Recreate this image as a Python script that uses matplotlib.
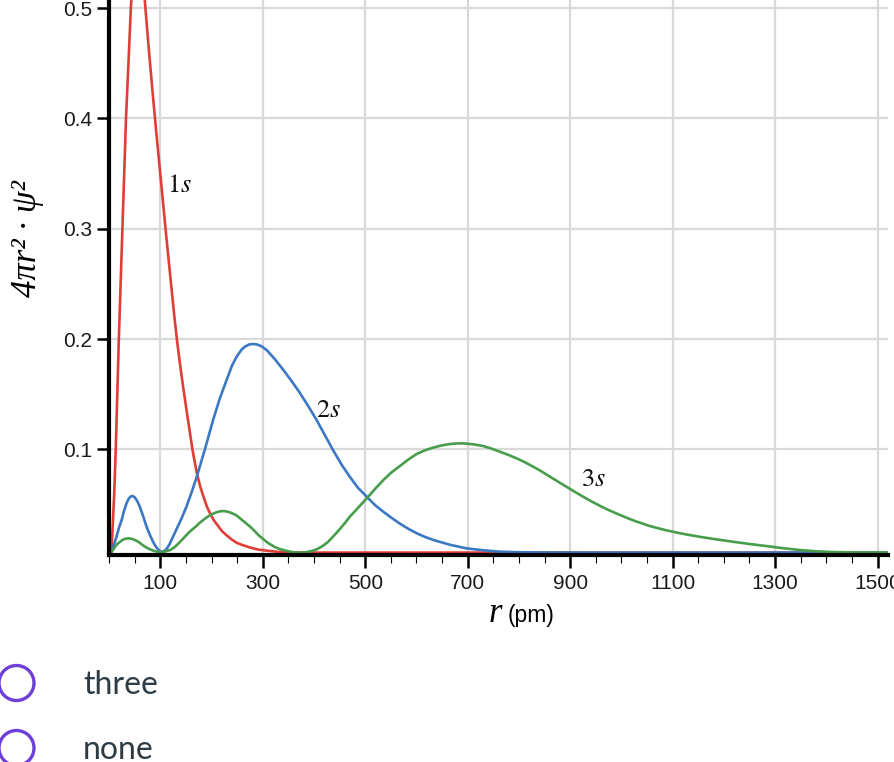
import matplotlib
matplotlib.use("Agg")
import matplotlib.pyplot as plt
from matplotlib.patches import Circle
from matplotlib.ticker import FixedLocator, MultipleLocator

# values: r in pm, 4*pi*r^2*psi^2
r_1s = [3, 5, 7, 10, 13, 19, 26, 33, 42.5, 45, 48, 51, 54, 57, 60, 63, 66, 68, 70, 78, 85,
        92, 99, 105, 111, 117, 122, 127, 133, 139, 145, 151, 156.5, 163, 171, 178, 185, 191,
        197, 204, 212, 220, 229.5, 240, 250, 262, 275, 292, 310, 325, 340, 370, 400, 700,
        1000, 1521]
p_1s = [0.006, 0.012, 0.03, 0.06, 0.1, 0.2, 0.3, 0.4, 0.5, 0.52, 0.54, 0.552, 0.558, 0.56,
        0.556, 0.546, 0.53, 0.518, 0.505, 0.46, 0.423, 0.388, 0.354, 0.325, 0.296, 0.268,
        0.245, 0.222, 0.197, 0.175, 0.155, 0.136, 0.119, 0.099, 0.079, 0.066, 0.056, 0.048,
        0.042, 0.036, 0.031, 0.026, 0.022, 0.018, 0.015, 0.013, 0.011, 0.009, 0.008, 0.0073,
        0.0068, 0.0065, 0.0064, 0.0064, 0.0064, 0.0064]

r_2s = [3, 5, 9, 14, 20, 24.6, 29, 34, 38, 42, 46, 50, 55, 60, 66, 73, 80, 86, 91, 96, 100,
        103, 107, 112, 118, 125, 133, 142, 151, 161, 171, 187, 203, 216, 229.5, 240, 249, 258,
        265, 273, 281, 289, 297, 307.6, 323, 340, 356, 372.6, 389, 405, 421, 437.5, 454, 470,
        486, 503, 519, 535, 551, 568, 584, 600, 616, 633, 665, 698, 730, 763, 800, 850, 1000,
        1521]
p_2s = [0.006, 0.007, 0.013, 0.02, 0.03, 0.036, 0.044, 0.051, 0.055, 0.0572, 0.0577, 0.0565,
        0.053, 0.048, 0.040, 0.030, 0.022, 0.016, 0.012, 0.009, 0.0075, 0.007, 0.0078, 0.0095,
        0.014, 0.021, 0.029, 0.038, 0.048, 0.061, 0.075, 0.10, 0.1266, 0.146, 0.163, 0.176,
        0.184, 0.190, 0.193, 0.195, 0.1955, 0.195, 0.1935, 0.190, 0.182, 0.172, 0.162, 0.151,
        0.139, 0.1266, 0.113, 0.099, 0.086, 0.075, 0.065, 0.057, 0.0495, 0.0435, 0.038,
        0.0325, 0.028, 0.024, 0.0207, 0.0178, 0.0135, 0.0102, 0.0085, 0.0072, 0.0067, 0.0065,
        0.0064, 0.0064]

r_3s = [3, 8, 12, 16, 21, 25, 29, 33, 37.5, 42, 48, 54, 60, 66, 73, 80, 88, 96, 103, 110, 119,
        127, 135, 143, 151, 159, 168, 176, 184, 192, 200, 207, 213, 218, 223, 229, 236, 243,
        249, 258, 266, 275, 284, 292, 300, 307.6, 316, 324, 332, 340, 350, 360, 372.6, 385,
        395, 405, 415, 426, 437.5, 450, 460, 470, 486, 503, 519, 535, 551, 568, 584, 600, 616,
        633, 649, 665, 678, 691, 710, 730, 746, 763, 779, 795.5, 812, 828, 844, 860.5, 877,
        893, 909, 925.5, 942, 958, 974, 990.6, 1007, 1023, 1055, 1088, 1120, 1153, 1185, 1218,
        1250, 1283, 1315, 1348, 1380, 1413, 1450, 1521]
p_3s = [0.006, 0.009, 0.012, 0.0142, 0.016, 0.0175, 0.0185, 0.019, 0.0193, 0.0191, 0.0183,
        0.017, 0.0152, 0.013, 0.011, 0.0093, 0.0078, 0.007, 0.0069, 0.0074, 0.0087, 0.011,
        0.0145, 0.0183, 0.0223, 0.026, 0.0295, 0.033, 0.036, 0.0388, 0.041, 0.0425, 0.0434,
        0.0439, 0.044, 0.0437, 0.0428, 0.0414, 0.040, 0.0365, 0.0335, 0.030, 0.026, 0.022,
        0.019, 0.016, 0.0135, 0.0113, 0.0098, 0.0087, 0.0075, 0.0067, 0.0063, 0.0068, 0.0078,
        0.0093, 0.0118, 0.0155, 0.021, 0.0275, 0.033, 0.039, 0.047, 0.0556, 0.064, 0.072,
        0.079, 0.085, 0.0907, 0.0957, 0.099, 0.1016, 0.1035, 0.1048, 0.1053, 0.1054, 0.1046,
        0.103, 0.1007, 0.0978, 0.095, 0.0918, 0.0882, 0.0842, 0.080, 0.0752, 0.0705, 0.066,
        0.0615, 0.057, 0.0527, 0.0488, 0.0452, 0.0418, 0.0386, 0.0356, 0.0305, 0.0265,
        0.0234, 0.0207, 0.0184, 0.0162, 0.0142, 0.0123, 0.0104, 0.0087, 0.0076, 0.0069,
        0.0066, 0.0064]

x_major = [100, 300, 500, 700, 900, 1100, 1300, 1500]
y_major = [0.1, 0.2, 0.3, 0.4, 0.5]
y_labels = ["0.1", "0.2", "0.3", "0.4", "0.5"]

curve_names = ["$1s$", "$2s$", "$3s$"]
name_r = [137, 429, 946]
name_p = [0.340, 0.1356, 0.073]

options = ["three", "none"]

RED = "#df3e36"
BLUE = "#3b78c3"
GREEN = "#489d4c"


def main():
    plt.rcParams["mathtext.fontset"] = "stix"
    plt.rcParams["font.family"] = ["Liberation Sans", "DejaVu Sans"]

    fig = plt.figure(figsize=(8.94, 7.62), dpi=100)
    ax = fig.add_axes([109.1 / 894, 1 - 555 / 762, (888.3 - 109.1) / 894, 555 / 762])

    ax.plot(r_1s, p_1s, color=RED, lw=1.9, zorder=3)
    ax.plot(r_2s, p_2s, color=BLUE, lw=1.9, zorder=4)
    ax.plot(r_3s, p_3s, color=GREEN, lw=1.9, zorder=5)

    for name, r, p in zip(curve_names, name_r, name_p):
        ax.text(r, p, name, ha="center", va="center", fontsize=19, color="#111111")

    ax.set_xlim(0, 1521)
    ax.set_ylim(0.0042, 0.5073)

    ax.xaxis.set_major_locator(FixedLocator(x_major))
    ax.xaxis.set_minor_locator(MultipleLocator(50))
    ax.set_yticks(y_major)
    ax.set_yticklabels(y_labels)

    ax.grid(True, which="major", color="#d9d9d9", lw=1.6)
    ax.set_axisbelow(True)

    for side in ["top", "right"]:
        ax.spines[side].set_visible(False)
    for side in ["left", "bottom"]:
        ax.spines[side].set_linewidth(3)
        ax.spines[side].set_zorder(6)

    ax.tick_params(axis="x", which="major", length=9.5, width=1.8, pad=4.5, labelsize=15,
                   labelcolor="#1a1a1a")
    ax.tick_params(axis="x", which="minor", length=6, width=0.8)
    ax.tick_params(axis="y", which="major", length=9, width=1.8, pad=3, labelsize=15,
                   labelcolor="#1a1a1a")

    # axis titles
    fig.text(28 / 894, 1 - 239 / 762, "4πr² · ψ²", rotation=90, family="Liberation Serif",
             style="italic", size=25, ha="center", va="center")
    fig.text(495 / 894, 1 - 622 / 762, "r", family="Liberation Serif", style="italic",
             size=25, ha="center", va="baseline")
    fig.text(508 / 894, 1 - 622 / 762, "(pm)", size=16.5, ha="left", va="baseline")

    # answer options below the chart
    over = fig.add_axes([0, 0, 1, 1])
    over.set_xlim(0, 894)
    over.set_ylim(762, 0)
    over.axis("off")
    for i, opt in enumerate(options):
        cy = 683 + 65 * i
        over.add_patch(Circle((16.5, cy), 17.5, fill=False, lw=2.4, ec="#6d3fd6"))
        over.text(83, cy + 11, opt, family="Lato", size=23, color="#2d3b45",
                  ha="left", va="baseline")

    fig.savefig("out.png", dpi=100)


if __name__ == "__main__":
    main()
